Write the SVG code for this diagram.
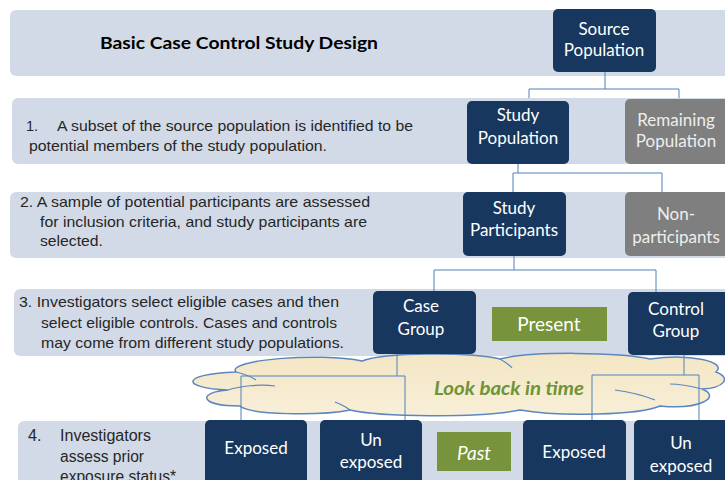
<svg xmlns="http://www.w3.org/2000/svg" width="725" height="480" viewBox="0 0 725 480">
<defs>
<linearGradient id="cloudFill" x1="0" y1="0" x2="0" y2="1">
<stop offset="0" stop-color="#f3e6c4"/>
<stop offset="1" stop-color="#f8efd8"/>
</linearGradient>
<style>
.band{fill:#d2dae7}
.navy{fill:#17375e}
.gray{fill:#7f7f7f}
.green{fill:#77933c}
.nt{font-family:Lato,"Open Sans","Liberation Sans",sans-serif;font-size:17px;fill:#ffffff;text-anchor:middle}
.gt{font-family:Lato,"Open Sans","Liberation Sans",sans-serif;font-size:17px;fill:#eeeeee;text-anchor:middle}
.lt{font-family:"Liberation Sans Narrow","Liberation Sans",Arial,sans-serif;font-size:14.5px;fill:#262626}
.lt4{font-size:16px}
.big{font-size:19px}
.conn{fill:none;stroke:#4f81bd;stroke-width:1}
</style>
</defs>

<g id="bands">
<rect class="band" x="10" y="10" width="740" height="66" rx="6"/>
<rect class="band" x="12" y="98" width="740" height="66" rx="6"/>
<rect class="band" x="10" y="192" width="740" height="66" rx="6"/>
<rect class="band" x="14" y="289" width="740" height="67" rx="6"/>
<rect class="band" x="18" y="421" width="740" height="70" rx="6"/>
</g>

<g id="title">
<text x="100" y="49" font-family="Lato,'Open Sans','Liberation Sans',sans-serif" font-weight="bold" font-size="17.5" fill="#000" textLength="278" lengthAdjust="spacingAndGlyphs">Basic Case Control Study Design</text>
</g>

<g id="step-texts">
<text class="lt" x="26" y="131">1.</text>
<text class="lt" x="57" y="131" textLength="356" lengthAdjust="spacingAndGlyphs">A subset of the source population is identified to be</text>
<text class="lt" x="29" y="151" textLength="298" lengthAdjust="spacingAndGlyphs">potential members of the study population.</text>
<text class="lt" x="20" y="207" textLength="350" lengthAdjust="spacingAndGlyphs">2. A sample of potential participants are assessed</text>
<text class="lt" x="40" y="227" textLength="327" lengthAdjust="spacingAndGlyphs">for inclusion criteria, and study participants are</text>
<text class="lt" x="40" y="246" textLength="63" lengthAdjust="spacingAndGlyphs">selected.</text>
<text class="lt" x="19" y="307" textLength="320" lengthAdjust="spacingAndGlyphs">3. Investigators select eligible cases and then</text>
<text class="lt" x="41" y="328" textLength="296" lengthAdjust="spacingAndGlyphs">select eligible  controls. Cases and controls</text>
<text class="lt" x="41" y="348" textLength="303" lengthAdjust="spacingAndGlyphs">may come from different study populations.</text>
<text class="lt lt4" x="28" y="441">4.</text>
<text class="lt lt4" x="60" y="441" textLength="91" lengthAdjust="spacingAndGlyphs">Investigators</text>
<text class="lt lt4" x="60" y="462" textLength="84" lengthAdjust="spacingAndGlyphs">assess prior</text>
<text class="lt lt4" x="60" y="482" textLength="116" lengthAdjust="spacingAndGlyphs">exposure status*</text>
</g>

<g id="cloud">
<path d="M 236 372 C 225 360 320 352 362 361 C 385 352 470 352 500 359 C 530 351 620 352 650 359 C 690 353 728 362 716 372 C 732 378 724 388 702 389 C 722 397 700 410 660 406 C 640 415 560 417 520 410 C 480 418 380 417 350 410 C 320 416 250 415 240 406 C 198 406 198 392 228 390 C 180 388 180 374 236 372 Z" fill="url(#cloudFill)" stroke="#5b86c0" stroke-width="1.5"/>
<path d="M 228 390 C 240 386 260 384 275 386" fill="none" stroke="#5b86c0" stroke-width="1.2"/>
<path d="M 236 372 C 244 374 252 377 256 380" fill="none" stroke="#5b86c0" stroke-width="1.2"/>
<path d="M 350 410 C 345 406 340 404 335 402" fill="none" stroke="#5b86c0" stroke-width="1.2"/>
<path d="M 615 390 C 630 392 645 396 655 400" fill="none" stroke="#5b86c0" stroke-width="1.2"/>
<path d="M 702 389 C 690 386 680 384 670 384" fill="none" stroke="#5b86c0" stroke-width="1.2"/>
<path d="M 500 359 C 505 362 510 365 512 368" fill="none" stroke="#5b86c0" stroke-width="1.2"/>
<text x="509" y="395" text-anchor="middle" font-family="Lato,'Open Sans','Liberation Sans',sans-serif" font-style="italic" font-weight="bold" font-size="19" fill="#6f9436" textLength="150" lengthAdjust="spacingAndGlyphs">Look back in time</text>
</g>

<g id="connectors">
<polyline class="conn" points="605,72 605,89"/>
<polyline class="conn" points="529,98 529,89 679,89 679,98"/>
<polyline class="conn" points="518,164 518,173"/>
<polyline class="conn" points="513,192 513,173 662,173 662,192"/>
<polyline class="conn" points="514,256 514,270"/>
<polyline class="conn" points="434,291 434,270 656,270 656,292"/>
<polyline class="conn" points="397,354 397,376"/>
<polyline class="conn" points="241,420 241,376 405,376 405,420"/>
<polyline class="conn" points="684,355 684,375"/>
<polyline class="conn" points="592,420 592,375 699,375 699,420"/>
</g>

<g id="source-population">
<rect class="navy" x="553" y="9" width="103" height="63" rx="5"/>
<text class="nt" x="604" y="35">Source</text>
<text class="nt" x="604" y="56">Population</text>
</g>
<g id="study-population">
<rect class="navy" x="467" y="101" width="102" height="63" rx="5"/>
<text class="nt" x="518" y="121">Study</text>
<text class="nt" x="518" y="144">Population</text>
</g>
<g id="remaining-population">
<rect class="gray" x="625" y="99" width="110" height="65" rx="5"/>
<text class="gt" x="676" y="126">Remaining</text>
<text class="gt" x="676" y="147">Population</text>
</g>
<g id="study-participants">
<rect class="navy" x="463" y="192" width="103" height="64" rx="5"/>
<text class="nt" x="514" y="214">Study</text>
<text class="nt" x="514" y="236">Participants</text>
</g>
<g id="non-participants">
<rect class="gray" x="625" y="192" width="110" height="64" rx="5"/>
<text class="gt" x="676" y="220">Non-</text>
<text class="gt" x="676" y="243">participants</text>
</g>
<g id="case-group">
<rect class="navy" x="373" y="291" width="103" height="63" rx="5"/>
<text class="nt" x="421" y="312">Case</text>
<text class="nt" x="421" y="335">Group</text>
</g>
<g id="present">
<rect class="green" x="492" y="307" width="115" height="34"/>
<text class="nt big" x="549" y="331">Present</text>
</g>
<g id="control-group">
<rect class="navy" x="628" y="292" width="110" height="63" rx="5"/>
<text class="nt" x="676" y="315">Control</text>
<text class="nt" x="676" y="337">Group</text>
</g>
<g id="case-exposed">
<rect class="navy" x="205" y="420" width="102" height="70" rx="5"/>
<text class="nt" x="256" y="454">Exposed</text>
</g>
<g id="case-unexposed">
<rect class="navy" x="320" y="420" width="102" height="70" rx="5"/>
<text class="nt" x="371" y="446">Un</text>
<text class="nt" x="371" y="468">exposed</text>
</g>
<g id="past">
<rect class="green" x="437" y="432" width="74" height="39"/>
<text class="nt big" x="474" y="460" font-style="italic">Past</text>
</g>
<g id="control-exposed">
<rect class="navy" x="523" y="420" width="103" height="70" rx="5"/>
<text class="nt" x="574" y="458">Exposed</text>
</g>
<g id="control-unexposed">
<rect class="navy" x="634" y="420" width="100" height="70" rx="5"/>
<text class="nt" x="681" y="449">Un</text>
<text class="nt" x="681" y="472">exposed</text>
</g>
</svg>
